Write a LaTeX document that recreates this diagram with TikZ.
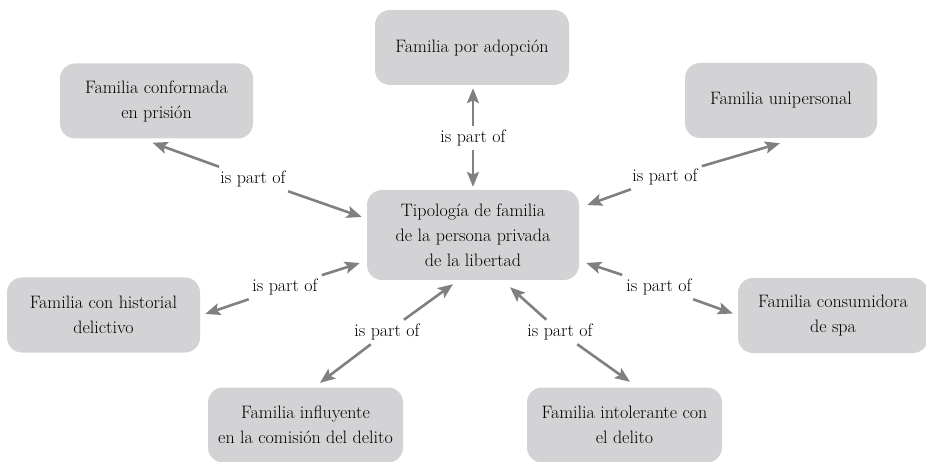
\documentclass[tikz,border=0pt]{standalone}
\usetikzlibrary{arrows.meta,calc}
\definecolor{boxgray}{RGB}{211,211,213}
\definecolor{arrgray}{RGB}{128,128,128}
\begin{document}
\begin{tikzpicture}[x=1pt,y=-1pt,
  box/.style={fill=boxgray,draw=none,rounded corners=15pt,minimum width=193pt,minimum height=75pt,align=center,font=\fontsize{18}{25}\selectfont,text=black},
  lbl/.style={font=\fontsize{18}{20}\selectfont,inner sep=4pt,text=black},
  arr/.style={draw=arrgray,line width=2.6pt,-{Stealth[length=15pt,width=12pt,inset=3pt]}}]
\useasboundingbox (0,0) rectangle (926,462);
\begin{scope}
\clip (0,0) rectangle (926,462);
\node[box,minimum width=212pt,minimum height=90pt] (c) at (473,235) {Tipología de familia\\de la persona privada\\de la libertad};
\node[box,minimum width=194pt] (t) at (472,47.5) {Familia por adopción};
\node[box] (tl) at (156.5,101) {Familia conformada\\en prisión};
\node[box,minimum width=192pt] (tr) at (781,100.5) {Familia unipersonal};
\node[box] (l) at (103.5,315) {Familia con historial\\delictivo};
\node[box,minimum width=190pt] (r) at (833,315.5) {Familia consumidora\\de spa};
\node[box,minimum width=195pt] (bl) at (305.5,425) {Familia influyente\\en la comisión del delito};
\node[box,minimum width=195pt] (br) at (624.5,425) {Familia intolerante con\\el delito};
\end{scope}
\node[lbl] (l1) at (473,138) {is part of};
\node[lbl] (l2) at (253,179) {is part of};
\node[lbl] (l3) at (665,177) {is part of};
\node[lbl] (l4) at (285,287) {is part of};
\node[lbl] (l5) at (387,332) {is part of};
\node[lbl] (l6) at (560,332) {is part of};
\node[lbl] (l7) at (659,287) {is part of};
% 1 top
\draw[arr] (l1) -- ($(t.south)+(1,3)$);
\draw[arr] (l1) -- ($(c.north)+(0,-3)$);
% 2 top-left
\draw[arr] (l2) -- ($(tl.south)+(-4,4)$);
\draw[arr] (l2) -- ($(c.west)+(-5,-18)$);
% 3 top-right
\draw[arr] (l3) -- ($(tr.south)+(-1,5)$);
\draw[arr] (l3) -- ($(c.east)+(8,-30)$);
% 4 left
\draw[arr] (l4) -- ($(l.east)+(5,-1)$);
\draw[arr] (l4) -- ($(c.west)+(-7,28)$);
% 5 bottom-left
\draw[arr] (l5) -- ($(bl.north)+(14.5,-4.5)$);
\draw[arr] (l5) -- ($(c.south)+(-20,4)$);
% 6 bottom-right
\draw[arr] (l6) -- ($(br.north)+(5.5,-5.5)$);
\draw[arr] (l6) -- ($(c.south)+(37,7)$);
% 7 right
\draw[arr] (l7) -- ($(r.west)+(-5,-2)$);
\draw[arr] (l7) -- ($(c.east)+(7,28)$);
\end{tikzpicture}
\end{document}
